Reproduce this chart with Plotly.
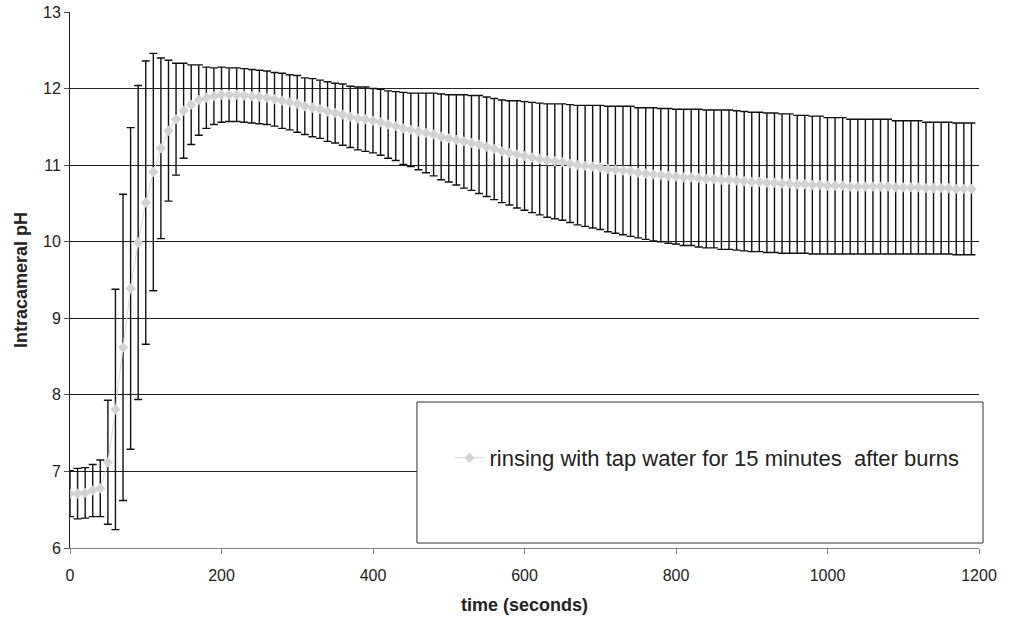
import plotly.graph_objects as go

# Sampling times (s)
time_s = [
    0, 10, 20, 30, 40, 50, 60, 70, 80, 90,
    100, 110, 120, 130, 140, 150, 160, 170, 180, 190,
    200, 210, 220, 230, 240, 250, 260, 270, 280, 290,
    300, 310, 320, 330, 340, 350, 360, 370, 380, 390,
    400, 410, 420, 430, 440, 450, 460, 470, 480, 490,
    500, 510, 520, 530, 540, 550, 560, 570, 580, 590,
    600, 610, 620, 630, 640, 650, 660, 670, 680, 690,
    700, 710, 720, 730, 740, 750, 760, 770, 780, 790,
    800, 810, 820, 830, 840, 850, 860, 870, 880, 890,
    900, 910, 920, 930, 940, 950, 960, 970, 980, 990,
    1000, 1010, 1020, 1030, 1040, 1050, 1060, 1070, 1080, 1090,
    1100, 1110, 1120, 1130, 1140, 1150, 1160, 1170, 1180, 1190,
]

# Mean intracameral pH
mean_ph = [
    6.71, 6.71, 6.72, 6.75, 6.78, 7.12, 7.81, 8.62, 9.39, 9.99,
    10.51, 10.91, 11.22, 11.45, 11.60, 11.71, 11.79, 11.85, 11.88, 11.90,
    11.92, 11.92, 11.92, 11.91, 11.90, 11.89, 11.88, 11.86, 11.84, 11.82,
    11.80, 11.77, 11.75, 11.73, 11.70, 11.68, 11.66, 11.63, 11.61, 11.60,
    11.58, 11.56, 11.53, 11.51, 11.48, 11.46, 11.44, 11.42, 11.40, 11.37,
    11.35, 11.33, 11.31, 11.29, 11.27, 11.24, 11.21, 11.18, 11.16, 11.14,
    11.12, 11.10, 11.08, 11.06, 11.05, 11.04, 11.02, 11.00, 10.99, 10.98,
    10.97, 10.95, 10.94, 10.93, 10.92, 10.90, 10.89, 10.88, 10.87, 10.86,
    10.85, 10.84, 10.84, 10.83, 10.82, 10.82, 10.81, 10.81, 10.80, 10.79,
    10.78, 10.78, 10.77, 10.77, 10.76, 10.76, 10.75, 10.75, 10.74, 10.74,
    10.73, 10.73, 10.73, 10.72, 10.72, 10.72, 10.72, 10.72, 10.72, 10.71,
    10.71, 10.71, 10.71, 10.70, 10.70, 10.70, 10.70, 10.69, 10.69, 10.69,
]

# Standard deviation of pH
sd_ph = [
    0.30, 0.33, 0.33, 0.34, 0.37, 0.81, 1.57, 2.00, 2.10, 2.05,
    1.85, 1.55, 1.18, 0.92, 0.73, 0.62, 0.52, 0.46, 0.40, 0.37,
    0.36, 0.35, 0.35, 0.35, 0.35, 0.35, 0.35, 0.35, 0.36, 0.36,
    0.37, 0.37, 0.38, 0.38, 0.39, 0.39, 0.40, 0.40, 0.41, 0.42,
    0.42, 0.43, 0.44, 0.45, 0.47, 0.48, 0.50, 0.52, 0.54, 0.56,
    0.57, 0.59, 0.61, 0.62, 0.64, 0.65, 0.66, 0.67, 0.68, 0.70,
    0.71, 0.72, 0.73, 0.74, 0.75, 0.76, 0.77, 0.78, 0.79, 0.80,
    0.81, 0.82, 0.83, 0.84, 0.85, 0.85, 0.86, 0.87, 0.87, 0.88,
    0.88, 0.89, 0.89, 0.90, 0.90, 0.90, 0.91, 0.91, 0.91, 0.91,
    0.91, 0.91, 0.91, 0.91, 0.91, 0.91, 0.90, 0.90, 0.90, 0.90,
    0.89, 0.89, 0.89, 0.88, 0.88, 0.88, 0.88, 0.88, 0.88, 0.87,
    0.87, 0.87, 0.87, 0.86, 0.86, 0.86, 0.86, 0.86, 0.86, 0.86,
]

y_ticks = [6, 7, 8, 9, 10, 11, 12, 13]
x_ticks = [0, 200, 400, 600, 800, 1000, 1200]

series_name = "rinsing with tap water for 15 minutes\u00a0 after burns"

FONT = "Liberation Sans, Arial, sans-serif"

fig = go.Figure()
fig.add_trace(go.Scatter(
    x=time_s,
    y=mean_ph,
    mode="lines+markers",
    name=series_name,
    line=dict(color="#d9d9d9", width=1),
    marker=dict(symbol="diamond", size=8, color="#d3d3d3"),
    error_y=dict(type="data", array=sd_ph, visible=True,
                 color="#111111", thickness=1.4, width=4),
))

# Legend frame
fig.add_shape(type="rect", xref="paper", yref="paper",
              x0=0.3817, x1=1.0044, y0=0.0093, y1=0.2724,
              line=dict(color="#333333", width=1), fillcolor="white",
              layer="above")

fig.update_layout(
    width=1014, height=622,
    margin=dict(l=70, r=35, t=12, b=74, autoexpand=False),
    plot_bgcolor="white", paper_bgcolor="white",
    font=dict(family=FONT, size=16, color="#222222"),
    showlegend=True,
    legend=dict(x=0.4175, y=0.168, xanchor="left", yanchor="middle",
                bgcolor="rgba(0,0,0,0)", borderwidth=0, itemwidth=30,
                font=dict(size=22, color="#222222")),
    xaxis=dict(range=[0, 1200], tickvals=x_ticks, showgrid=False,
               showline=True, linecolor="#888888", linewidth=1,
               ticks="outside", ticklen=5, tickcolor="#888888",
               ticklabelstandoff=8, automargin=False,
               zeroline=False,
               title=dict(text="<b>time (seconds)</b>", font=dict(size=18),
                          standoff=15)),
    yaxis=dict(range=[6, 13], tickvals=y_ticks, showgrid=True,
               gridcolor="#222222", gridwidth=1,
               showline=True, linecolor="#222222", linewidth=1,
               ticks="outside", ticklen=5, tickcolor="#555555",
               automargin=False,
               zeroline=False,
               title=dict(text="<b>Intracameral pH</b>", font=dict(size=18),
                          standoff=10)),
)

fig.write_html("out.html")
